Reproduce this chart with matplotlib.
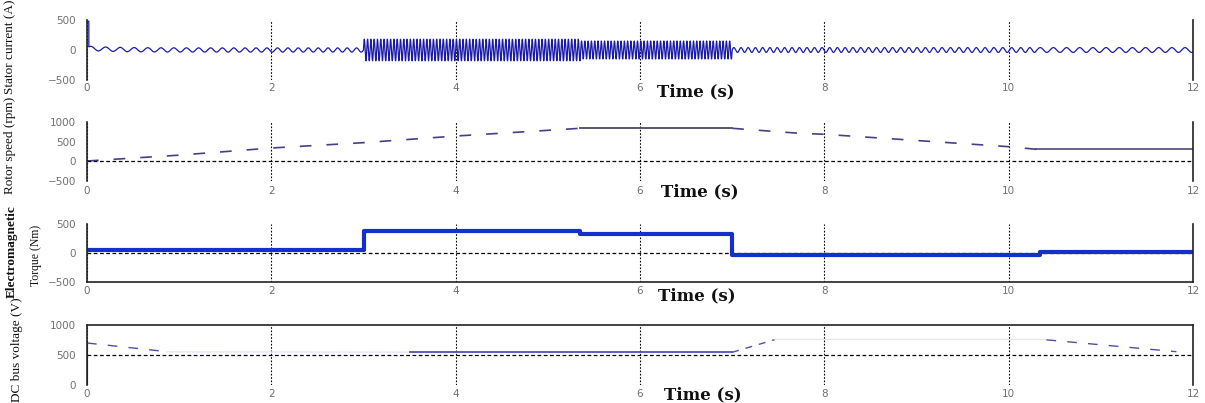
import numpy as np
import matplotlib
matplotlib.use("Agg")
import matplotlib.pyplot as plt

# ---------------- data ----------------
x_ticks = [0, 2, 4, 6, 8, 10, 12]

# Stator current: segment boundaries, amplitude (A) and frequency (Hz)
cur_seg_t = [0.0, 3.0, 5.35, 7.0, 10.3, 12.0]
cur_amp = [35, 180, 150, 40, 40]
cur_freq_start = [6, 28, 28, 13, 7]
cur_freq_end = [10, 28, 28, 10, 7]
cur_spike = 480           # inrush peak at t = 0
cur_ticks = [-500, 0, 500]

# Rotor speed (rpm)
speed_t = [0, 1, 2, 3, 4, 5.35, 7.0, 7.73, 8, 10, 10.3, 12]
speed_v = [0, 150, 333, 470, 640, 838, 838, 710, 685, 367, 300, 300]
speed_ticks = [-500, 0, 500, 1000]

# Electromagnetic torque (Nm), step levels
torque_t = [0, 3.0, 5.35, 7.0, 10.34, 12]
torque_v = [50, 376, 330, -40, 10]
torque_ticks = [-500, 0, 500]

# DC bus voltage (V)
dc_spike_v = 700
dc_dash1_t = [0.0, 0.87]
dc_dash1_v = [700, 555]
dc_faint1_t = [0.87, 3.5]
dc_faint1_v = [552, 548]
dc_solid_t = [3.5, 7.0]
dc_solid_v = [545, 545]
dc_dash2_t = [7.0, 7.46]
dc_dash2_v = [545, 755]
dc_faint2_t = [7.46, 10.41]
dc_faint2_v = [760, 760]
dc_dash3_t = [10.41, 11.82]
dc_dash3_v = [753, 555]
dc_ticks = [0, 500, 1000]

# ---------------- figure ----------------
W, H = 1205, 403
fig = plt.figure(figsize=(W / 100, H / 100), dpi=100)

def rect(top_px, bot_px):
    left = 87 / W
    width = (1193 - 87) / W
    return [left, 1 - bot_px / H, width, (bot_px - top_px) / H]

tick_col = "#707070"

def style(ax, ylim, yticks, spines, label_pad):
    ax.set_xlim(0, 12)
    ax.set_ylim(*ylim)
    ax.set_xticks(x_ticks)
    ax.set_yticks(yticks)
    ax.tick_params(length=0, labelsize=7.5, colors=tick_col)
    ax.tick_params(axis="x", pad=label_pad)
    ax.tick_params(axis="y", pad=8)
    for s in ["left", "right", "top", "bottom"]:
        ax.spines[s].set_visible(s in spines)
        ax.spines[s].set_color("#222222")
        ax.spines[s].set_linewidth(1.2)
    ax.grid(axis="x", color="black", linestyle=(0, (1.5, 1.5)), linewidth=0.8)
    ax.set_facecolor("none")

# ---- Panel 1: stator current ----
ax1 = fig.add_axes(rect(20, 80))
t = np.linspace(0, 12, 36001)
freq = np.zeros_like(t)
amp = np.zeros_like(t)
for i in range(len(cur_amp)):
    m = (t >= cur_seg_t[i]) & (t <= cur_seg_t[i + 1])
    frac = (t[m] - cur_seg_t[i]) / (cur_seg_t[i + 1] - cur_seg_t[i])
    freq[m] = cur_freq_start[i] + (cur_freq_end[i] - cur_freq_start[i]) * frac
    amp[m] = cur_amp[i]
phase = 2 * np.pi * np.cumsum(freq) * (t[1] - t[0])
cur = amp * np.sin(phase)
cur = cur + 30 * np.exp(-t / 0.3)
cur[t < 0.02] = cur_spike
ax1.plot(t, cur, color="#1a1aa6", lw=0.9)
style(ax1, (-500, 500), cur_ticks, ["left", "right"], 2)

# ---- Panel 2: rotor speed ----
ax2 = fig.add_axes(rect(122, 180.5))
sp_col = "#463f86"
ramp_idx = [(0, 5), (6, 10)]
for a, b in ramp_idx:
    ax2.plot(speed_t[a:b + 1], speed_v[a:b + 1], color=sp_col, lw=1.2,
             linestyle=(0, (7, 9)))
ax2.plot(speed_t[5:7], speed_v[5:7], color="#4a4a66", lw=1.3)
ax2.plot(speed_t[10:12], speed_v[10:12], color="#3a3a66", lw=1.1)
ax2.axhline(0, color="black", linestyle=(0, (3, 2)), lw=0.9)
style(ax2, (-500, 1000), speed_ticks, ["left", "right"], 4)

# ---- Panel 3: torque ----
ax3 = fig.add_axes(rect(224, 282))
ax3.axhline(0, color="black", linestyle=(0, (3, 2)), lw=0.9)
ax3.step(torque_t, torque_v + [torque_v[-1]], where="post", color="#1530c8", lw=3)
style(ax3, (-500, 500), torque_ticks, ["left", "right", "bottom"], 3)

# ---- Panel 4: DC bus voltage ----
ax4 = fig.add_axes(rect(325, 385))
ax4.axhline(500, color="black", linestyle=(0, (3, 2)), lw=0.9)
ax4.plot([0, 0], [0, dc_spike_v], color="#2020a0", lw=1.5)
ax4.plot(dc_dash1_t, dc_dash1_v, color="#5050a0", lw=1.0, linestyle=(0, (7, 8)))
ax4.plot(dc_faint1_t, dc_faint1_v, color="#e6e6f2", lw=1.0)
ax4.plot(dc_solid_t, dc_solid_v, color="#5050b0", lw=1.3)
ax4.plot(dc_dash2_t, dc_dash2_v, color="#5050a0", lw=1.0, linestyle=(0, (5, 5)))
ax4.plot(dc_faint2_t, dc_faint2_v, color="#e6e6f2", lw=1.0)
ax4.plot(dc_dash3_t, dc_dash3_v, color="#5050a0", lw=1.0, linestyle=(0, (7, 8)))
style(ax4, (0, 1000), dc_ticks, ["left", "right", "top"], 3)

# ---- Time labels ----
for cx, cy in [(696, 92), (700, 192), (697, 296), (703, 395)]:
    fig.text(cx / W, 1 - cy / H, "Time (s)", ha="center", va="center",
             fontsize=12, fontweight="bold", family="DejaVu Serif", color="#111111")

# ---- Y labels ----
yl = dict(rotation=90, ha="center", va="center", family="Liberation Serif",
          color="#111111")
fig.text(10 / W, 1 - 47 / H, "Stator current (A)", fontsize=9.5, **yl)
fig.text(10 / W, 1 - 145 / H, "Rotor speed (rpm)", fontsize=9.5, **yl)
fig.text(12 / W, 1 - 252 / H, "Electromagnetic", fontsize=9.5, fontweight="bold", **yl)
fig.text(36 / W, 1 - 255 / H, "Torque (Nm)", fontsize=8.5, **yl)
fig.text(17 / W, 1 - 350 / H, "DC bus voltage (V)", fontsize=9.5, **yl)

fig.savefig("out.png", dpi=100)
